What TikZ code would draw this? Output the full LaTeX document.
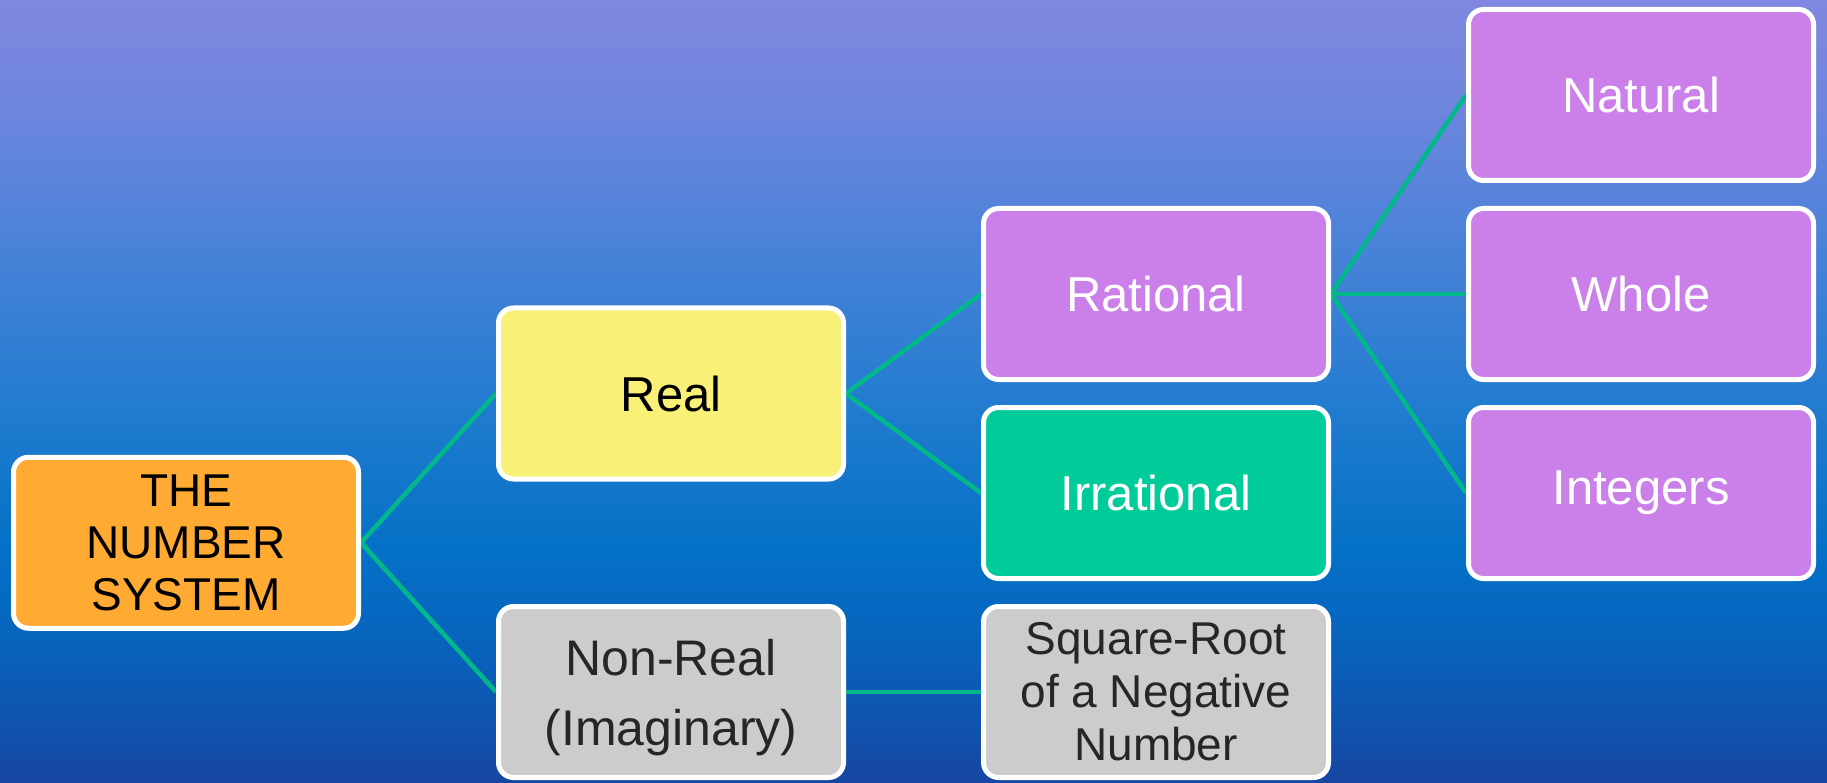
\documentclass[tikz,border=0pt]{standalone}
\usepackage{fontspec}
\setmainfont{Liberation Sans}
\usetikzlibrary{positioning, calc, backgrounds}

\definecolor{bgtop}{RGB}{128,135,224}
\definecolor{bgupper}{RGB}{112,134,222}
\definecolor{bgmidup}{RGB}{72,130,216}
\definecolor{bgmid}{RGB}{35,124,208}
\definecolor{bgmidlow}{RGB}{4,113,198}
\definecolor{bglower}{RGB}{8,98,188}
\definecolor{bgbottom}{RGB}{22,70,162}
\definecolor{boxorange}{RGB}{255,171,51}
\definecolor{boxyellow}{RGB}{249,240,120}
\definecolor{boxgrey}{RGB}{204,204,204}
\definecolor{textgrey}{RGB}{38,38,38}
\definecolor{boxpurple}{RGB}{202,128,232}
\definecolor{boxgreen}{RGB}{0,204,153}
\definecolor{linkgreen}{RGB}{0,184,138}

\pgfdeclareverticalshading{bgfade}{100bp}{color(0bp)=(bgbottom); color(25bp)=(bgbottom);
  color(33.5bp)=(bglower); color(39.9bp)=(bgmidlow); color(49.5bp)=(bgmid);
  color(59bp)=(bgmidup); color(68.6bp)=(bgupper); color(75bp)=(bgtop); color(100bp)=(bgtop)}

\begin{document}
\begin{tikzpicture}[x=1pt, y=-1pt, node distance=23pt and 135pt,
  box/.style={rectangle, rounded corners=15pt, draw=white, line width=5pt, minimum width=345pt, minimum height=171pt, inner sep=0pt, align=center, font=\fontsize{49}{56}\selectfont},
  rootbox/.style={box, fill=boxorange, text=black, font=\fontsize{46}{52}\selectfont},
  realbox/.style={box, fill=boxyellow, text=black},
  greybox/.style={box, fill=boxgrey, text=textgrey},
  purplebox/.style={box, fill=boxpurple, text=white},
  greenbox/.style={box, fill=boxgreen, text=white},
  link/.style={draw=linkgreen, line width=4.5pt}]

\node[purplebox] (rational) at (1156,294) {Rational};
\node[purplebox, right=of rational] (whole) {Whole};
\node[purplebox, above=of whole] (natural) {Natural};
\node[purplebox, below=of whole] (integers) {Integers};
\node[greenbox, below=of rational] (irrational) {Irrational};
\node[greybox, below=of irrational, font=\fontsize{46}{53}\selectfont] (sqroot) {Square-Root\\of a Negative\\Number};
\node[greybox, left=of sqroot, font=\fontsize{50}{70}\selectfont, text depth=-2pt] (nonreal) {Non-Real\\(Imaginary)};

\coordinate (upmid) at ($(rational.west)!0.5!(irrational.west)$);
\node[realbox, left=of upmid] (real) {Real};
\coordinate (lowmid) at ($(real.west)!0.5!(nonreal.west)$);
\node[rootbox, left=of lowmid] (sys) {THE\\NUMBER\\SYSTEM};

\begin{scope}[on background layer]
  \shade[shading=bgfade] (0,0) rectangle (1827,783);
  \draw[link] (sys.east) -- (real.west);
  \draw[link] (sys.east) -- (nonreal.west);
  \draw[link] (real.east) -- (rational.west);
  \draw[link] (real.east) -- (irrational.west);
  \draw[link] (nonreal.east) -- (sqroot.west);
  \draw[link] (rational.east) -- (natural.west);
  \draw[link] (rational.east) -- (whole.west);
  \draw[link] (rational.east) -- (integers.west);
\end{scope}

\end{tikzpicture}
\end{document}
